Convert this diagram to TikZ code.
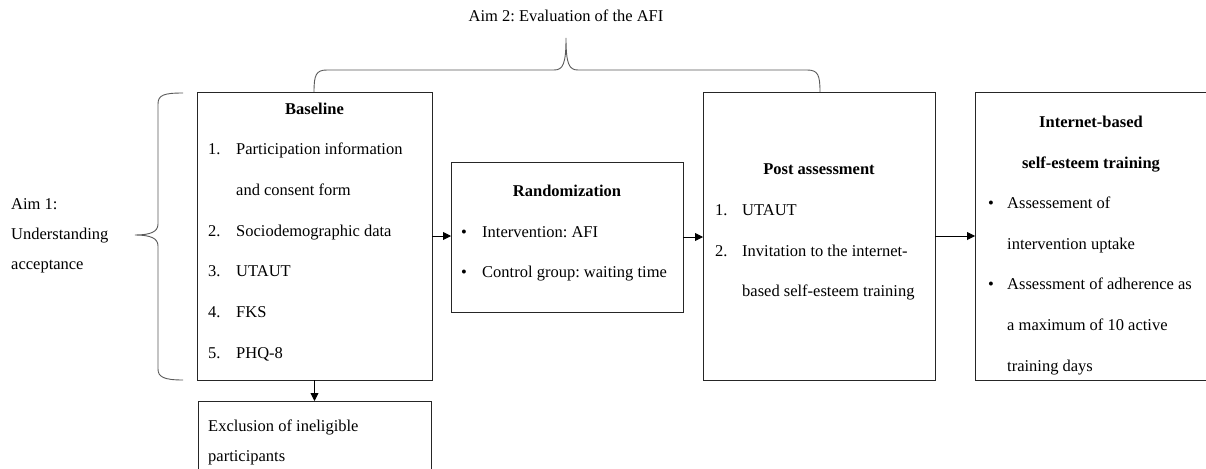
\documentclass[tikz,border=0pt]{standalone}
\usepackage{fontspec}
\setmainfont{Liberation Serif}
\usetikzlibrary{arrows.meta}
\frenchspacing
\newcommand{\diagfont}{\fontsize{16.5}{20}\selectfont}
\begin{document}
\begin{tikzpicture}[x=1pt,y=-1pt,
  frame/.style={draw=black!85, line width=0.9pt, inner sep=0pt, outer sep=0pt},
  openframe/.style={draw=none, inner sep=0pt, outer sep=0pt},
  txt/.style={anchor=base west, inner sep=0pt, font=\diagfont, text=black},
  ttl/.style={anchor=base, inner sep=0pt, font=\diagfont\bfseries, text=black},
  flow/.style={draw=black, line width=0.9pt, -{Triangle[length=8pt,width=8pt]}},
  brace/.style={draw=black!65, line width=0.9pt}]
\useasboundingbox (0,0) rectangle (1206,468);

% boxes
\node[frame, minimum width=235pt, minimum height=288pt] (base) at (314.5,236) {};
\node[frame, minimum width=232pt, minimum height=150pt] (rand) at (567,237) {};
\node[frame, minimum width=232pt, minimum height=288pt] (post) at (819,236) {};
\node[openframe, minimum width=231pt, minimum height=288pt] (inet) at (1090.5,236) {};
\draw[frame] (inet.north east) -- (inet.north west) -- (inet.south west) -- (inet.south east);
\node[openframe, minimum width=233pt, minimum height=68pt] (excl) at (314.5,435) {};
\draw[frame] (excl.south west) -- (excl.north west) -- (excl.north east) -- (excl.south east);

% connectors
\draw[flow] (base.east) -- (base.east -| rand.west);
\draw[flow] (rand.east) -- (rand.east -| post.west);
\draw[flow] (post.east) -- (post.east -| inet.west);
\draw[flow] (base.south) -- (excl.north);

% braces
\draw[brace] (183,93) .. controls (164,93) and (158,95) .. (158,104) -- (158,224)
  .. controls (158,232) and (150,235) .. (135,235)
  .. controls (150,235) and (158,238) .. (158,246) -- (158,369)
  .. controls (158,377) and (164,380) .. (183,380);
\draw[brace] (314,92) .. controls (314,75) and (316,70) .. (327,70) -- (554,70)
  .. controls (563,70) and (566,64) .. (566,38)
  .. controls (566,64) and (569,70) .. (578,70) -- (807,70)
  .. controls (818,70) and (820,75) .. (820,92);

% aims
\node[anchor=base, inner sep=0pt, font=\diagfont] (aimtwo) at (566,21.5) {Aim 2: Evaluation of the AFI};
\node[txt] (aimone) at (11,209.5) {Aim 1:};
\node[txt] (aimonea) at (11,239.5) {Understanding};
\node[txt] (aimoneb) at (11,269.5) {acceptance};

% baseline box
\node[ttl] (baset) at (314.5,114.5) {Baseline};
\node[txt] (bn1) at (208,154.5) {1.};
\node[txt] (bt1) at (236,154.5) {Participation information};
\node[txt] (bt1b) at (236,195.5) {and consent form};
\node[txt] (bn2) at (208,236.5) {2.};
\node[txt] (bt2) at (236,236.5) {Sociodemographic data};
\node[txt] (bn3) at (208,276.5) {3.};
\node[txt] (bt3) at (236,276.5) {UTAUT};
\node[txt] (bn4) at (208,317.5) {4.};
\node[txt] (bt4) at (236,317.5) {FKS};
\node[txt] (bn5) at (208,358.5) {5.};
\node[txt] (bt5) at (236,358.5) {PHQ-8};

% exclusion box
\node[txt] (ex1) at (208,431.5) {Exclusion of ineligible};
\node[txt] (ex2) at (208,461.5) {participants};

% randomization box
\node[ttl] (randt) at (567,196.5) {Randomization};
\node[txt] (rb1) at (461,237.5) {•};
\node[txt] (rt1) at (482,237.5) {Intervention: AFI};
\node[txt] (rb2) at (461,277.5) {•};
\node[txt] (rt2) at (482,277.5) {Control group: waiting time};

% post assessment box
\node[ttl] (postt) at (819,174.5) {Post assessment};
\node[txt] (pn1) at (715,215.5) {1.};
\node[txt] (pt1) at (742,215.5) {UTAUT};
\node[txt] (pn2) at (715,256.5) {2.};
\node[txt] (pt2) at (742,256.5) {Invitation to the internet-};
\node[txt] (pt2b) at (742,296.5) {based self-esteem training};

% internet-based training box
\node[ttl] (inett) at (1091,127.5) {Internet-based};
\node[ttl] (inettb) at (1091,168.5) {self-esteem training};
\node[txt] (ib1) at (988,208.5) {•};
\node[txt] (it1) at (1007,208.5) {Assessement of};
\node[txt] (it1b) at (1007,249.5) {intervention uptake};
\node[txt] (ib2) at (988,289.5) {•};
\node[txt] (it2) at (1007,289.5) {Assessment of adherence as};
\node[txt] (it2b) at (1007,330.5) {a maximum of 10 active};
\node[txt] (it2c) at (1007,371.5) {training days};
\end{tikzpicture}
\end{document}
